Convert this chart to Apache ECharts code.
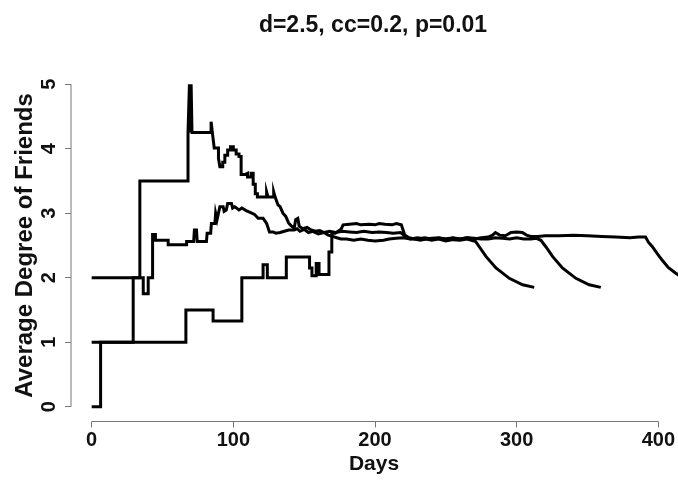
<!DOCTYPE html>
<html>
<head>
<meta charset="utf-8">
<script src="https://cdn.jsdelivr.net/npm/echarts@6/dist/echarts.min.js"></script>
<style>
html,body{margin:0;padding:0;background:#fff;}
#chart{width:678px;height:481px;}
</style>
</head>
<body>
<div id="chart"></div>
<script>
// ---- data (day, average degree of friends) ----
const xTicks = [0, 100, 200, 300, 400];
const yTicks = [0, 1, 2, 3, 4, 5];

const run1 = [
[0,2],[34,2],[34,3.5],[68,3.5],[68,4.25],[69,4.25],[69,5],[69.6,5],[69.6,4.25],[70.2,4.25],[70.2,5],[70.8,5],[70.8,4.25],
[84.3,4.25],[84.3,4.42],[85.2,4.42],[85.2,4.25],[86.5,4.25],[86.5,4.01],[89.5,4.01],[89.5,3.85],[90.5,3.85],[90.5,3.72],[92.5,3.72],
[92.5,3.79],[94,3.79],[94,3.9],[96,3.9],[96,3.98],[98,3.98],[98,4.03],[100,4.03],[100,3.98],[102,3.98],[102,3.92],[104,3.92],
[104,3.88],[105.5,3.88],[105.5,3.6],[108,3.6],[108,3.62],[110,3.62],[110,3.56],[112.5,3.56],[112.5,3.62],[114,3.62],[114,3.45],
[115.5,3.45],[115.5,3.3],[117,3.3],[117,3.25],[123.5,3.25],[123.5,3.33],[124.5,3.33],[124.5,3.25],[128.5,3.25],[128.5,3.33],
[129.5,3.33],[129.5,3.25],[130.5,3.25],[131.5,3.13],[133,3.1],[135,3.0],[137,2.95],[139,2.85],[141,2.8],[143,2.77],
[144,2.9],[145.5,2.92],[146.5,2.8],[149,2.76],[152,2.78],[155,2.74],[158,2.72],[161,2.73],[164,2.7],[167,2.66],[170,2.64],
[173,2.62],[176,2.6],[180,2.6],[185,2.58],[190,2.6],[195,2.58],[200,2.57],[206,2.58],[210,2.6],[215,2.61],[220,2.62],
[225,2.6],[230,2.6],[235,2.62],[240,2.6],[245,2.61],[250,2.6],[255,2.61],[260,2.6],[265,2.62],[270,2.6],[275,2.62],
[280,2.63],[283,2.66],[285,2.7],[288,2.66],[292,2.65],[296,2.7],[300,2.71],[304,2.7],[307,2.66],[310,2.64],[315,2.64],
[320,2.65],[330,2.65],[340,2.66],[350,2.65],[360,2.64],[370,2.63],[380,2.62],[386,2.63],[391,2.63],
[393,2.55],[395.8,2.48],[399,2.38],[402.8,2.27],[407,2.16],[412.3,2.07],[418,1.99],[424,1.92],[432,1.86]
];

const run2 = [
[0,1],[29.3,1],[29.3,2],[36.4,2],[36.4,1.75],[39.9,1.75],[39.9,2],[43,2],[43,2.67],[45,2.67],[45,2.58],[54,2.58],[54,2.51],
[67,2.51],[67,2.56],[72,2.56],[72.5,2.74],[74,2.74],[74.5,2.56],[81,2.56],[81.5,2.69],[84,2.69],[84.5,2.84],[87,2.84],
[87.5,3.0],[88.5,2.9],[89.5,2.92],[90.5,3.1],[92.8,3.1],[93.5,3.03],[95,3.05],[96,3.15],[98.7,3.15],[99.5,3.08],[101,3.1],
[102.2,3.13],[104,3.05],[106,3.08],[107,3.1],[109,3.04],[111,3.02],[113,3.0],[115,2.98],[117.5,2.92],[121,2.92],[122,2.89],
[123.5,2.84],[125.5,2.71],[128,2.71],[130,2.69],[133,2.7],[136,2.72],[139,2.74],[141,2.74],[143,2.74],[145,2.76],[147,2.72],
[150,2.75],[153,2.7],[156,2.72],[160,2.68],[164,2.7],[168,2.72],[172,2.7],[177,2.72],[182,2.71],[187,2.7],[192,2.72],
[198,2.7],[203,2.71],[208,2.7],[213,2.69],[218,2.7],[221,2.65],[225,2.6],[230,2.62],[235,2.6],[240,2.61],[245,2.62],
[250,2.6],[255,2.62],[260,2.6],[265,2.62],[270,2.61],[275,2.6],[280,2.6],[285,2.62],[290,2.61],[295,2.6],[300,2.62],
[305,2.6],[310,2.6],[314,2.61],[317.1,2.58],
[320.6,2.48],[325.3,2.33],[332.3,2.15],[341.8,1.99],[351.2,1.89],[359.4,1.85]
];

const run3 = [
[0,0],[6.3,0],[6.3,1],[66.5,1],[66.5,1.5],[85.7,1.5],[85.7,1.33],[106,1.33],[106,2],[121,2],[121,2.2],[124,2.2],[124,2],
[137.4,2],[137.4,2.32],[153.8,2.32],[153.8,2.15],[155.5,2.15],[155.5,2.03],[158.5,2.03],[158.5,2.22],[160.5,2.22],[160.5,2.05],
[167.5,2.05],[167.5,2.4],[169.5,2.4],[169.5,2.69],[172,2.69],[174,2.72],[176,2.75],[177.5,2.82],[182,2.83],[187,2.84],
[190,2.82],[196,2.83],[200,2.82],[203,2.84],[207,2.83],[212,2.82],[215,2.84],[218.6,2.82],[221,2.66],[224,2.62],[228,2.6],
[232,2.58],[236,2.6],[240,2.58],[245,2.6],[250,2.57],[255,2.59],[260,2.58],[265,2.6],[271.1,2.56],
[273.6,2.48],[278.3,2.33],[285.4,2.15],[294.8,1.99],[304.2,1.89],[312.4,1.85]
];

const titleText = 'd=2.5, cc=0.2, p=0.01';
const xName = 'Days';
const yName = 'Average Degree of Friends';

// ---- chart ----
const X_MIN = -14.6, X_MAX = 413.2, Y_MIN = -0.23, Y_MAX = 5.23;
const FONT = '"Liberation Sans", Arial, Helvetica, sans-serif';
const AXIS_COLOR = '#777';

const chart = echarts.init(document.getElementById('chart'), null, {renderer: 'canvas'});

function runSeries(data) {
  return {
    type: 'line', data: data, showSymbol: false, symbol: 'none', smooth: false,
    lineStyle: {color: '#000', width: 3, join: 'miter'}, silent: true, clip: true
  };
}
function axisSeries(data) {
  return {
    type: 'line', data: data, showSymbol: false, symbol: 'none',
    lineStyle: {color: AXIS_COLOR, width: 1}, silent: true, clip: false, z: 1
  };
}

chart.setOption({
  animation: false,
  backgroundColor: '#fff',
  title: {
    text: titleText, left: 368, top: 9, textAlign: 'center',
    textStyle: {fontFamily: FONT, fontWeight: 'bold', fontSize: 23, color: '#111'}
  },
  grid: {left: 71, right: 0, top: 69.4, bottom: 59.5, containLabel: false},
  xAxis: {
    type: 'value', min: X_MIN, max: X_MAX,
    name: xName, nameLocation: 'middle', nameGap: 32, nameMoveOverlap: false,
    nameTextStyle: {fontFamily: FONT, fontWeight: 'bold', fontSize: 21, color: '#111'},
    axisLine: {show: false, onZero: false},
    axisTick: {show: true, length: 6, customValues: xTicks, lineStyle: {color: AXIS_COLOR}},
    axisLabel: {customValues: xTicks, margin: 9, fontFamily: FONT, fontWeight: 'bold', fontSize: 20, color: '#111'},
    splitLine: {show: false}
  },
  yAxis: {
    type: 'value', min: Y_MIN, max: Y_MAX,
    name: yName, nameLocation: 'middle', nameGap: 34, nameRotate: 90, nameMoveOverlap: false,
    nameTextStyle: {fontFamily: FONT, fontWeight: 'bold', fontSize: 24, color: '#111'},
    axisLine: {show: false, onZero: false},
    axisTick: {show: true, length: 6, customValues: yTicks, lineStyle: {color: AXIS_COLOR}},
    axisLabel: {customValues: yTicks, rotate: 90, margin: 12, fontFamily: FONT, fontWeight: 'bold', fontSize: 20, color: '#111'},
    splitLine: {show: false}
  },
  series: [
    axisSeries([[xTicks[0], Y_MIN], [xTicks[xTicks.length - 1], Y_MIN]]),
    axisSeries([[X_MIN, yTicks[0]], [X_MIN, yTicks[yTicks.length - 1]]]),
    runSeries(run1),
    runSeries(run2),
    runSeries(run3)
  ]
});
</script>
</body>
</html>
